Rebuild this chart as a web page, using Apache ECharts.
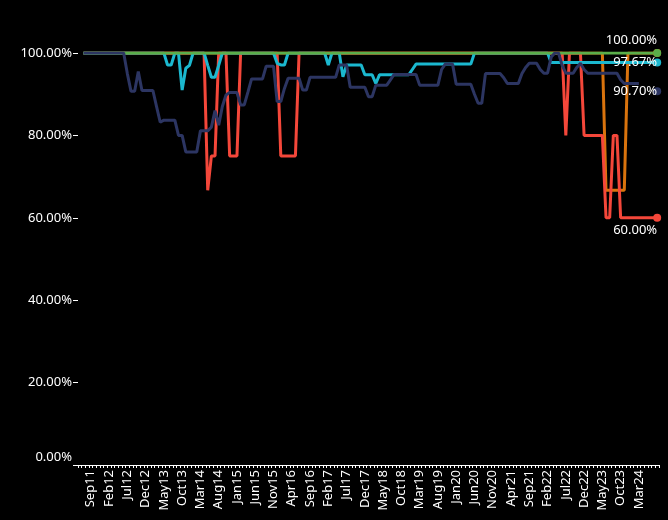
<!DOCTYPE html>
<html>
<head>
<meta charset="utf-8">
<script src="https://cdn.jsdelivr.net/npm/echarts@6/dist/echarts.min.js"></script>
<style>
html,body{margin:0;padding:0;background:#000;}
#chart{width:668px;height:520px;}
</style>
</head>
<body>
<div id="chart"></div>
<script>
const categories = [
'Jun11','Jul11','Aug11','Sep11','Oct11','Nov11','Dec11',
'Jan12','Feb12','Mar12','Apr12','May12','Jun12','Jul12','Aug12','Sep12','Oct12','Nov12','Dec12',
'Jan13','Feb13','Mar13','Apr13','May13','Jun13','Jul13','Aug13','Sep13','Oct13','Nov13','Dec13',
'Jan14','Feb14','Mar14','Apr14','May14','Jun14','Jul14','Aug14','Sep14','Oct14','Nov14','Dec14',
'Jan15','Feb15','Mar15','Apr15','May15','Jun15','Jul15','Aug15','Sep15','Oct15','Nov15','Dec15',
'Jan16','Feb16','Mar16','Apr16','May16','Jun16','Jul16','Aug16','Sep16','Oct16','Nov16','Dec16',
'Jan17','Feb17','Mar17','Apr17','May17','Jun17','Jul17','Aug17','Sep17','Oct17','Nov17','Dec17',
'Jan18','Feb18','Mar18','Apr18','May18','Jun18','Jul18','Aug18','Sep18','Oct18','Nov18','Dec18',
'Jan19','Feb19','Mar19','Apr19','May19','Jun19','Jul19','Aug19','Sep19','Oct19','Nov19','Dec19',
'Jan20','Feb20','Mar20','Apr20','May20','Jun20','Jul20','Aug20','Sep20','Oct20','Nov20','Dec20',
'Jan21','Feb21','Mar21','Apr21','May21','Jun21','Jul21','Aug21','Sep21','Oct21','Nov21','Dec21',
'Jan22','Feb22','Mar22','Apr22','May22','Jun22','Jul22','Aug22','Sep22','Oct22','Nov22','Dec22',
'Jan23','Feb23','Mar23','Apr23','May23','Jun23','Jul23','Aug23','Sep23','Oct23','Nov23','Dec23',
'Jan24','Feb24','Mar24','Apr24','May24','Jun24','Jul24','Aug24'
];

const navySeries = [
null,100,100,100,100,100,100,
100,100,100,100,100,100,95,90.7,90.7,95.5,90.9,90.9,
90.9,90.9,87,83.2,83.7,83.7,83.7,83.7,80,80,76,76,
76,76,81.1,81.1,81.1,82,86,82.5,87,89.8,90.4,90.4,
90.4,87.4,87.4,90.5,93.7,93.7,93.7,93.7,96.8,96.8,96.8,88.2,
88.2,91.4,93.9,93.9,93.9,93.9,91,91,94.1,94.1,94.1,94.1,
94.1,94.1,94.1,94.1,97.1,97.1,97.1,91.7,91.7,91.7,91.7,91.7,
89.4,89.4,92.2,92.2,92.2,92.2,93.5,94.8,94.8,94.8,94.8,94.8,
94.8,94.8,92.2,92.2,92.2,92.2,92.2,92.2,96,97.3,97.3,97.3,
92.4,92.4,92.4,92.4,92.4,90,87.8,87.8,95,95,95,95,
95,94,92.6,92.6,92.6,92.6,95,96.5,97.5,97.5,97.5,96,
95.1,95.1,99,100,100,97,95.1,95.1,95.1,96.5,97.5,96,
95.1,95.1,95.1,95.1,95.1,95.1,95.1,95.1,95.1,93.5,92.6,92.6,
92.6,92.6,92.6,null,null,null,null,90.7
];

const cyanSeries = [
null,100,100,100,100,100,100,
100,100,100,100,100,100,100,100,100,100,100,100,
100,100,100,100,100,97.1,97.1,100,100,91,96.3,97,
100,100,100,100,97,94.1,94.1,97,100,100,100,100,
100,100,100,100,100,100,100,100,100,100,100,97.5,
97.1,97.1,100,100,100,100,100,100,100,100,100,100,
100,97.1,100,100,100,94.2,97.1,97.1,97.1,97.1,97.1,94.7,
94.7,94.7,92.6,94.7,94.7,94.7,94.7,94.7,94.7,94.7,94.7,94.7,
96,97.3,97.3,97.3,97.3,97.3,97.3,97.3,97.3,97.3,97.3,97.3,
97.3,97.3,97.3,97.3,97.3,100,100,100,100,100,100,100,
100,100,100,100,100,100,100,100,100,100,100,100,
100,100,97.67,97.67,97.67,97.67,97.67,97.67,97.67,97.67,97.67,97.67,
97.67,97.67,97.67,97.67,97.67,97.67,97.67,97.67,97.67,97.67,97.67,97.67,
97.67,97.67,97.67,97.67,97.67,97.67,97.67,97.67
];

const redSeries = [
null,100,100,100,100,100,100,
100,100,100,100,100,100,100,100,100,100,100,100,
100,100,100,100,100,100,100,100,100,100,100,100,
100,100,100,100,66.67,75,75,100,100,100,75,75,
75,100,100,100,100,100,100,100,100,100,100,100,
75,75,75,75,75,100,100,100,100,100,100,100,
100,100,100,100,100,100,100,100,100,100,100,100,
100,100,100,100,100,100,100,100,100,100,100,100,
100,100,100,100,100,100,100,100,100,100,100,100,
100,100,100,100,100,100,100,100,100,100,100,100,
100,100,100,100,100,100,100,100,100,100,100,100,
100,100,100,100,100,100,80,100,100,100,100,80,
80,80,80,80,80,60,60,80,80,60,60,60,
60,60,60,60,60,60,60,60
];

const orangeSeries = [
null,100,100,100,100,100,100,
100,100,100,100,100,100,100,100,100,100,100,100,
100,100,100,100,100,100,100,100,100,100,100,100,
100,100,100,100,100,100,100,100,100,100,100,100,
100,100,100,100,100,100,100,100,100,100,100,100,
100,100,100,100,100,100,100,100,100,100,100,100,
100,100,100,100,100,100,100,100,100,100,100,100,
100,100,100,100,100,100,100,100,100,100,100,100,
100,100,100,100,100,100,100,100,100,100,100,100,
100,100,100,100,100,100,100,100,100,100,100,100,
100,100,100,100,100,100,100,100,100,100,100,100,
100,100,100,100,100,100,100,100,100,100,100,100,
100,100,100,100,100,66.67,66.67,66.67,66.67,66.67,66.67,100,
100,100,100,100,100,100,100,100
];

const greenSeries = [
null,100,100,100,100,100,100,
100,100,100,100,100,100,100,100,100,100,100,100,
100,100,100,100,100,100,100,100,100,100,100,100,
100,100,100,100,100,100,100,100,100,100,100,100,
100,100,100,100,100,100,100,100,100,100,100,100,
100,100,100,100,100,100,100,100,100,100,100,100,
100,100,100,100,100,100,100,100,100,100,100,100,
100,100,100,100,100,100,100,100,100,100,100,100,
100,100,100,100,100,100,100,100,100,100,100,100,
100,100,100,100,100,100,100,100,100,100,100,100,
100,100,100,100,100,100,100,100,100,100,100,100,
100,100,100,100,100,100,100,100,100,100,100,100,
100,100,100,100,100,100,100,100,100,100,100,100,
100,100,100,100,100,100,100,100
];

const yTicks = [0, 20, 40, 60, 80, 100];

const FONT = 'Noto Sans';

function withEnd(arr, dy, showLabel) {
  const last = arr.length - 1;
  return arr.map(function (v, i) {
    if (i !== last) return v;
    const item = { value: v, symbol: 'circle', symbolSize: 8 };
    if (showLabel) {
      item.label = {
        show: true, position: [4, 4], align: 'right', verticalAlign: 'middle',
        offset: [0, dy], formatter: v.toFixed(2) + '%', color: '#fff',
        fontSize: 13, fontFamily: FONT
      };
    }
    return item;
  });
}

function mkSeries(name, arr, color, dy, showLabel) {
  return {
    name: name, type: 'line', data: withEnd(arr, dy, showLabel),
    symbol: 'none', showSymbol: true, showAllSymbol: true,
    connectNulls: false, smooth: false,
    itemStyle: { color: color },
    lineStyle: { color: color, width: 3 },
    emphasis: { disabled: true }
  };
}

const chart = echarts.init(document.getElementById('chart'), null, { renderer: 'canvas' });
chart.setOption({
  backgroundColor: '#000',
  animation: false,
  grid: { left: 78, right: 9, top: 53, bottom: 55, containLabel: false },
  xAxis: {
    type: 'category', data: categories, boundaryGap: true,
    axisLine: { show: true, lineStyle: { color: '#fff', width: 1 } },
    axisTick: { show: true, interval: 0, length: 3, lineStyle: { color: '#fff' } },
    axisLabel: {
      interval: function (i) { return (i - 3) % 5 === 0 && i < 155; },
      rotate: 90, color: '#fff', fontSize: 13, fontFamily: FONT, margin: 5
    },
    splitLine: { show: false }
  },
  yAxis: {
    type: 'value', min: yTicks[0], max: yTicks[yTicks.length - 1], interval: 20,
    axisLine: { show: false },
    axisTick: { show: true, length: 5, lineStyle: { color: '#fff' } },
    axisLabel: {
      color: '#fff', fontSize: 13, fontFamily: FONT, margin: 6,
      formatter: function (v) {
        return v === 0 ? '{z|' + v.toFixed(2) + '%}' : v.toFixed(2) + '%';
      },
      rich: { z: { color: '#fff', fontSize: 13, fontFamily: FONT, padding: [0, 0, 16, 0] } }
    },
    splitLine: { show: false }
  },
  series: [
    mkSeries('orange', orangeSeries, '#d9730d', 0, false),
    mkSeries('red', redSeries, '#f4473a', 12, true),
    mkSeries('cyan', cyanSeries, '#1bb8cf', 0, true),
    mkSeries('green', greenSeries, '#5aae4a', -13, true),
    mkSeries('navy', navySeries, '#2c3562', 0, true)
  ]
});
</script>
</body>
</html>
